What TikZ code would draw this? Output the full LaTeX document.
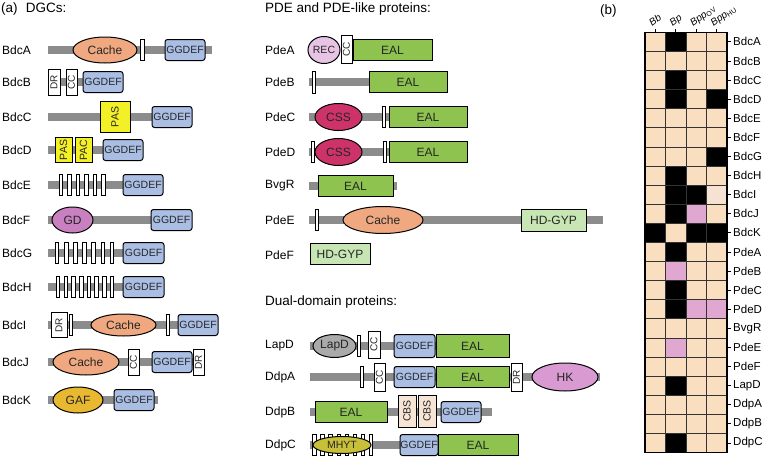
\documentclass[tikz,border=0pt]{standalone}
\usepackage{fontspec}
\setmainfont{Liberation Sans}
\usetikzlibrary{shapes.geometric}
\definecolor{boneC}{RGB}{140,140,140}
\definecolor{cacheC}{RGB}{240,168,128}
\definecolor{ggC}{RGB}{170,190,228}
\definecolor{ealC}{RGB}{141,195,78}
\definecolor{pasC}{RGB}{244,240,40}
\definecolor{gdC}{RGB}{200,128,192}
\definecolor{gafC}{RGB}{232,184,48}
\definecolor{recC}{RGB}{232,196,228}
\definecolor{cssC}{RGB}{205,50,105}
\definecolor{hdC}{RGB}{200,230,180}
\definecolor{lapC}{RGB}{170,170,170}
\definecolor{hkC}{RGB}{216,154,208}
\definecolor{mhytC}{RGB}{200,192,56}
\definecolor{cbsC}{RGB}{246,228,212}
\definecolor{hmz}{RGB}{249,222,191}
\definecolor{hmo}{RGB}{0,0,0}
\definecolor{hmp}{RGB}{224,168,208}
\definecolor{hml}{RGB}{246,226,210}
\newcommand\fTitle{\fontsize{13.5}{15}\selectfont}
\newcommand\fLab{\fontsize{12}{14}\selectfont}
\newcommand\fDom{\fontsize{12}{14}\selectfont}
\newcommand\fGG{\fontsize{10.5}{12}\selectfont}
\newcommand\fSm{\fontsize{10}{11}\selectfont}
\newcommand\fHm{\fontsize{11.5}{13}\selectfont}
\newcommand\fCol{\fontsize{10}{11}\selectfont}
\newcounter{dn}
% horizontal backbone
\newcommand\dbone[3]{\draw[bonestyle] (#1,#3) -- (#2,#3);}
% box: style, x1, x2, y, h, text
\newcommand\dbox[6]{\stepcounter{dn}\node[#1, minimum width={(#3-#2)*1pt}, minimum height={#5*1pt}] (d\arabic{dn}) at ({(#2+#3)/2},#4) {#6};}
% rotated-text box
\newcommand\rbox[6]{\stepcounter{dn}\node[#1, rotate=90, minimum width={#5*1pt}, minimum height={(#3-#2)*1pt}] (d\arabic{dn}) at ({(#2+#3)/2},#4) {#6};}
% ellipse
\newcommand\dell[6]{\stepcounter{dn}\node[ell, #1, minimum width={(#3-#2)*1pt}, minimum height={#5*1pt}] (d\arabic{dn}) at ({(#2+#3)/2},#4) {#6};}
% TM bar: x, y, h
\newcommand\dbar[3]{\stepcounter{dn}\node[tmbar, minimum height={#3*1pt}] (d\arabic{dn}) at (#1,#2) {};}
\newcommand\plab[3]{\stepcounter{dn}\node[anchor=west, inner sep=0, font=\fLab] (d\arabic{dn}) at (#1,#2) {#3};}
\tikzset{
  bonestyle/.style={line width=7.5pt, draw=boneC},
  dom/.style={draw=black, line width=1pt, inner sep=0pt, text=black!85},
  gg/.style={dom, fill=ggC, rounded corners=2.5pt, font=\fGG},
  eal/.style={dom, fill=ealC, font=\fDom},
  hd/.style={dom, fill=hdC, font=\fDom},
  wbox/.style={dom, fill=white, line width=0.9pt, font=\fSm, inner sep=0pt},
  pas/.style={dom, fill=pasC, font=\fGG, inner sep=0pt},
  cbs/.style={dom, fill=cbsC, font=\fGG, inner sep=0pt},
  ell/.style={ellipse, draw=black, line width=1pt, inner sep=0pt, text=black!85},
  tmbar/.style={rectangle, draw=black, fill=white, line width=0.8pt, minimum width=3.6pt, inner sep=0pt},
  hcell/.style={rectangle, draw=black!80, line width=0.7pt, minimum width=20.5pt, minimum height=19.1pt, inner sep=0pt},
}
\begin{document}
\begin{tikzpicture}[x=1pt,y=-1pt]
\useasboundingbox (0,0) rectangle (764,463);
% ================= (a) DGCs =================
\node[anchor=west, inner sep=0, font=\fTitle] (ta) at (1,9) {(a)\hspace{0.6em}DGCs:};
% BdcA
\plab{2}{50}{BdcA}
\dbone{48}{212}{50}
\dell{fill=cacheC, font=\fDom}{73}{137}{50}{26}{Cache}
\dbar{142.5}{50}{21}
\dbox{gg}{165}{205}{50}{21}{GGDEF}
% BdcB
\plab{2}{82}{BdcB}
\dbone{48}{110}{82}
\rbox{wbox}{48}{60}{82}{26}{DR}
\rbox{wbox}{66}{77}{82}{26}{CC}
\dbox{gg}{83}{123}{82}{21}{GGDEF}
% BdcC
\plab{2}{117}{BdcC}
\dbone{48}{180}{117}
\rbox{pas}{100}{130}{117}{31}{PAS}
\dbox{gg}{152}{192}{117}{21}{GGDEF}
% BdcD
\plab{2}{150}{BdcD}
\dbone{48}{110}{150}
\rbox{pas}{55}{72}{150}{25}{PAS}
\rbox{pas}{75}{92}{150}{25}{PAC}
\dbox{gg}{103}{143}{150}{21}{GGDEF}
% BdcE
\plab{2}{185}{BdcE}
\dbone{48}{130}{185}
\foreach \i in {0,...,5} {\dbar{61+8.5*\i}{185}{21}}
\dbox{gg}{123}{163}{185}{21}{GGDEF}
% BdcF
\plab{2}{220}{BdcF}
\dbone{48}{180}{220}
\dell{fill=gdC, font=\fDom}{52}{93}{220}{26}{GD}
\dbox{gg}{151}{192}{220}{21}{GGDEF}
% BdcG
\plab{2}{253}{BdcG}
\dbone{48}{130}{253}
\foreach \i in {0,...,6} {\dbar{57+9.17*\i}{253}{21}}
\dbox{gg}{123}{164}{253}{21}{GGDEF}
% BdcH
\plab{2}{287}{BdcH}
\dbone{48}{160}{287}
\foreach \i in {0,...,7} {\dbar{58+7.7*\i}{287}{21}}
\dbox{gg}{123}{164}{287}{21}{GGDEF}
% BdcI
\plab{2}{325}{BdcI}
\dbone{48}{212}{325}
\rbox{wbox}{51}{67}{325}{25}{DR}
\dbar{71}{325}{21}
\dell{fill=cacheC, font=\fDom}{91}{156}{325}{22}{Cache}
\dbar{168}{325}{21}
\dbox{gg}{178}{218}{325}{21}{GGDEF}
% BdcJ
\plab{2}{362}{BdcJ}
\dbone{48}{200}{362}
\dell{fill=cacheC, font=\fDom}{53}{119}{362}{26}{Cache}
\rbox{wbox}{128}{139}{362}{26}{CC}
\dbox{gg}{152}{192}{362}{21}{GGDEF}
\rbox{wbox}{193}{204}{362}{26}{DR}
% BdcK
\plab{2}{400}{BdcK}
\dbone{48}{158}{400}
\dell{fill=gafC, font=\fDom}{53}{103}{400}{26}{GAF}
\dbox{gg}{114}{154}{400}{21}{GGDEF}
% ================= PDE =================
\node[anchor=west, inner sep=0, font=\fTitle] (tp) at (265,9) {PDE and PDE-like proteins:};
% PdeA
\plab{265}{50}{PdeA}
\dell{fill=recC, font=\fGG}{308}{340}{50}{27}{REC}
\rbox{wbox}{341}{352}{49.5}{28}{CC}
\dbox{eal}{353}{432}{50}{21}{EAL}
% PdeB
\plab{265}{82}{PdeB}
\dbone{309}{448}{82}
\dbar{314}{82}{22}
\dbox{eal}{369}{447}{82}{21}{EAL}
% PdeC
\plab{265}{117}{PdeC}
\dbone{309}{460}{117}
\dell{fill=cssC, font=\fDom}{315}{362}{117}{27}{CSS}
\dbar{384}{117}{21}
\dbox{eal}{389}{467}{117}{21}{EAL}
% PdeD
\plab{265}{152}{PdeD}
\dbone{309}{460}{152}
\dbar{313}{152}{21}
\dell{fill=cssC, font=\fDom}{315}{362}{152}{27}{CSS}
\dbar{385}{152}{21}
\dbox{eal}{389}{467}{152}{21}{EAL}
% BvgR
\plab{265}{186}{BvgR}
\dbone{309}{397}{186}
\dbox{eal}{318}{393}{186}{21}{EAL}
% PdeE
\plab{265}{220}{PdeE}
\dbone{309}{603}{220}
\dbar{317}{220}{21}
\dell{fill=cacheC, font=\fDom}{343}{423}{220}{27}{Cache}
\dbox{hd}{521}{586}{220}{22}{HD-GYP}
% PdeF
\plab{265}{255}{PdeF}
\dbox{hd}{310}{370}{254}{21}{HD-GYP}
% ================= Dual-domain =================
\node[anchor=west, inner sep=0, font=\fTitle] (td) at (265,302) {Dual-domain proteins:};
% LapD
\plab{265}{346}{LapD}
\dbone{310}{505}{346}
\dell{fill=lapC, font=\fDom}{313}{356}{346}{23}{LapD}
\dbar{359}{346}{21}
\rbox{wbox}{368}{380}{344.5}{27}{CC}
\dbox{gg}{394}{435}{346}{23}{GGDEF}
\dbox{eal}{436}{509}{346}{23}{EAL}
% DdpA
\plab{265}{377}{DdpA}
\dbone{310}{600}{377}
\dbar{362}{377}{21}
\rbox{wbox}{374}{385}{377}{28}{CC}
\dbox{gg}{394}{435}{377}{21}{GGDEF}
\dbox{eal}{436}{509}{377}{21}{EAL}
\rbox{wbox}{511}{522}{377}{28}{DR}
\dell{fill=hkC, font=\fDom}{532}{598}{377}{28}{HK}
% DdpB
\plab{265}{412}{DdpB}
\dbone{310}{492}{412}
\dbox{eal}{315}{387}{412}{21}{EAL}
\rbox{cbs}{398}{416}{411}{32}{CBS}
\rbox{cbs}{418}{436}{411}{32}{CBS}
\dbox{gg}{441}{481}{412}{21}{GGDEF}
% DdpC
\plab{265}{445}{DdpC}
\dbone{310}{515}{445}
\foreach \i in {0,...,7} {\dbar{314.5+8.07*\i}{445}{21}}
\dell{fill=mhytC, font=\fGG}{313}{371}{445}{17}{MHYT}
\dbox{gg}{400}{438}{445}{21}{GGDEF}
\dbox{eal}{438}{518}{445}{21}{EAL}
% ================= (b) heatmap =================
\node[anchor=west, inner sep=0, font=\fTitle] (tb) at (600,11) {(b)};
\foreach \lab/\a/\b/\c/\d [count=\r from 0] in {
  BdcA/z/o/z/z, BdcB/z/z/z/z, BdcC/z/o/z/z, BdcD/z/o/z/o, BdcE/z/z/z/z,
  BdcF/z/z/z/z, BdcG/z/z/z/o, BdcH/z/o/z/z, BdcI/z/o/o/l, BdcJ/z/o/p/z,
  BdcK/o/z/o/o, PdeA/z/o/z/z, PdeB/z/p/z/z, PdeC/z/o/z/z, PdeD/z/o/p/p,
  BvgR/z/z/z/z, PdeE/z/p/z/z, PdeF/z/z/z/z, LapD/z/o/z/z, DdpA/z/z/z/z,
  DdpB/z/z/z/z, DdpC/z/o/z/z} {
  \foreach \v [count=\k from 0] in {\a,\b,\c,\d} {
    \node[hcell, fill=hm\v] (c\r-\k) at ({655.25+20.5*\k},{41.85+19.1*\r}) {};
  }
  \draw[line width=0.8pt] (727,{41.85+19.1*\r}) -- (731,{41.85+19.1*\r});
  \node[anchor=west, inner sep=0, font=\fHm] (h\r) at (733,{41.85+19.1*\r}) {\lab};
}
\draw[line width=1.6pt] (645,32.3) rectangle (727,452.5);
\foreach \t [count=\k from 0] in {\textit{Bb},\textit{Bp},\textit{Bpp}\textsubscript{OV},\textit{Bpp}\textsubscript{HU}} {
  \draw[line width=0.8pt] ({655.25+20.5*\k},32.3) -- ({655.25+20.5*\k},28.5);
  \node[anchor=base west, inner sep=0, rotate=36, font=\fCol] (col\k) at ({652+20.5*\k},26.5) {\t};
}
\end{tikzpicture}
\end{document}
